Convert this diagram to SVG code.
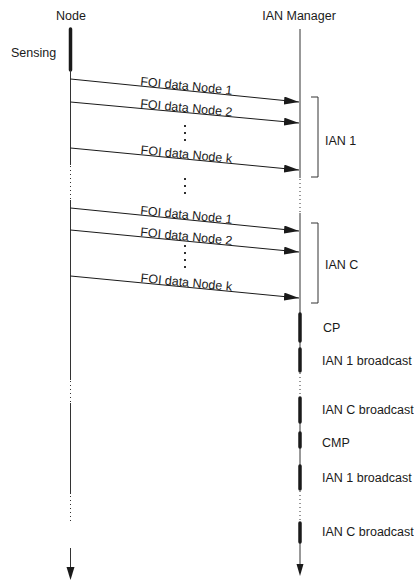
<svg xmlns="http://www.w3.org/2000/svg" width="414" height="583" viewBox="0 0 414 583">
<defs>
<style>
text{font-family:"Liberation Sans",Arial,sans-serif;fill:#1a1a1a;}
.hdr{font-size:12.5px;text-anchor:middle;}
.lbl{font-size:12.5px;}
.msg{font-size:12.5px;text-anchor:middle;}
.thin{stroke:#333;stroke-width:1;fill:none;}
.dot{stroke:#333;stroke-width:1;stroke-dasharray:1 3;fill:none;}
.bar{stroke:#1a1a1a;stroke-width:3.5;stroke-linecap:round;fill:none;}
.ell{stroke:#1a1a1a;stroke-width:1.8;stroke-dasharray:2 5;fill:none;}
.arrow{stroke:#1a1a1a;stroke-width:1;fill:none;marker-end:url(#ah);}
.brk{stroke:#333;stroke-width:1;fill:none;}
</style>
<marker id="ah" viewBox="0 0 15 8" refX="15" refY="4" markerWidth="15" markerHeight="8" markerUnits="userSpaceOnUse" orient="auto">
<path d="M0,0 L15,4 L0,8 z" fill="#1a1a1a"/>
</marker>
</defs>

<g id="node-lifeline">
<text class="hdr" x="71" y="20">Node</text>
<text class="lbl" x="11" y="56.5">Sensing</text>
<line class="bar" x1="70.5" y1="29" x2="70.5" y2="70"/>
<line class="thin" x1="70.5" y1="70" x2="70.5" y2="165"/>
<line class="dot" x1="70.5" y1="166" x2="70.5" y2="200"/>
<line class="thin" x1="70.5" y1="200" x2="70.5" y2="380"/>
<line class="dot" x1="70.5" y1="381" x2="70.5" y2="403"/>
<line class="thin" x1="70.5" y1="403" x2="70.5" y2="494"/>
<line class="dot" x1="70.5" y1="496" x2="70.5" y2="523"/>
<line class="thin" x1="70.5" y1="548" x2="70.5" y2="568"/>
<path d="M66.5,567 L74.5,567 L70.5,580 z" fill="#1a1a1a"/>
</g>

<g id="manager-lifeline">
<text class="hdr" x="299" y="20">IAN Manager</text>
<line class="thin" x1="300" y1="29" x2="300" y2="178"/>
<line class="dot" x1="300" y1="179" x2="300" y2="213"/>
<line class="thin" x1="300" y1="213" x2="300" y2="372"/>
<line class="dot" x1="300" y1="373" x2="300" y2="397"/>
<line class="thin" x1="300" y1="397" x2="300" y2="490"/>
<line class="dot" x1="300" y1="491" x2="300" y2="522"/>
<line class="thin" x1="300" y1="522" x2="300" y2="565"/>
<path d="M296.5,564 L303.5,564 L300,576 z" fill="#1a1a1a"/>
</g>

<g id="phases">
<line class="bar" x1="300" y1="314" x2="300" y2="341"/>
<text class="lbl" x="323" y="332">CP</text>
<line class="bar" x1="300" y1="349" x2="300" y2="371"/>
<text class="lbl" x="322" y="365">IAN 1 broadcast</text>
<line class="bar" x1="300" y1="398" x2="300" y2="422"/>
<text class="lbl" x="322" y="414">IAN C broadcast</text>
<line class="bar" x1="300" y1="433" x2="300" y2="447"/>
<text class="lbl" x="322" y="447">CMP</text>
<line class="bar" x1="300" y1="466" x2="300" y2="489"/>
<text class="lbl" x="322" y="482">IAN 1 broadcast</text>
<line class="bar" x1="300" y1="523" x2="300" y2="542"/>
<text class="lbl" x="322" y="536">IAN C broadcast</text>
</g>

<g id="ian1">
<path class="brk" d="M311,97 H318 V177 H311"/>
<text class="lbl" x="325" y="145">IAN 1</text>
</g>
<g id="ianC">
<path class="brk" d="M311,223 H318 V303 H311"/>
<text class="lbl" x="325" y="269">IAN C</text>
</g>

<g id="connectors">
<line class="arrow" x1="70.5" y1="79" x2="299" y2="102"/>
<line class="arrow" x1="70.5" y1="102" x2="299" y2="123"/>
<line class="arrow" x1="70.5" y1="148" x2="299" y2="170"/>
<line class="arrow" x1="70.5" y1="208" x2="299" y2="231"/>
<line class="arrow" x1="70.5" y1="230" x2="299" y2="252"/>
<line class="arrow" x1="70.5" y1="276" x2="299" y2="298"/>
<line class="ell" x1="185" y1="125" x2="185" y2="143"/>
<line class="ell" x1="185" y1="178" x2="185" y2="198"/>
<line class="ell" x1="185" y1="245" x2="185" y2="270"/>
</g>

<g id="labels">
<text class="msg" transform="translate(186,90) rotate(5.7)">FOI data Node 1</text>
<text class="msg" transform="translate(186,112) rotate(5.3)">FOI data Node 2</text>
<text class="msg" transform="translate(186,158.5) rotate(5.5)">FOI data Node k</text>
<text class="msg" transform="translate(186,219) rotate(5.7)">FOI data Node 1</text>
<text class="msg" transform="translate(186,240.5) rotate(5.5)">FOI data Node 2</text>
<text class="msg" transform="translate(186,286.5) rotate(5.5)">FOI data Node k</text>
</g>
</svg>
